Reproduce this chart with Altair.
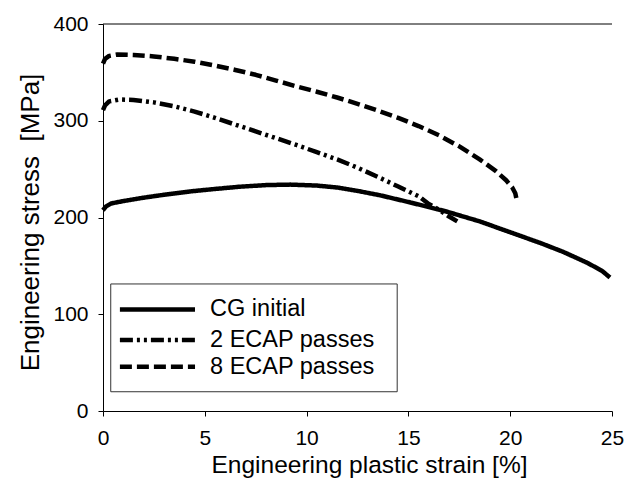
import altair as alt
import pandas as pd

series_names = ["CG initial", "2 ECAP passes", "8 ECAP passes"]
dash_patterns = [[1, 0], [13, 4, 3, 4, 3, 4], [12, 5]]

cg_strain = [0, 0.15, 0.4, 1.0, 2.0, 3.0, 4.3, 5.5, 6.7, 8.0, 9.2, 10.5, 11.5, 12.5,
             13.6, 15.2, 16.9, 18.5, 20.1, 21.5, 22.6, 23.8, 24.5, 24.9]
cg_stress = [207.5, 211.5, 214.5, 217, 220.5, 223.5, 227, 229.5, 231.8, 233.5, 234, 233,
             231, 227.5, 223, 215, 206, 196, 184, 173.5, 164.5, 153, 145, 138]

e2_strain = [0, 0.1, 0.3, 0.8, 1.5, 2.5, 3.5, 4.5, 5.5, 6.5, 7.5, 8.5, 9.5, 10.5, 11.5,
             12.5, 13.5, 14.5, 15.5, 16.0, 16.5, 17.0, 17.4]
e2_stress = [311, 316, 320, 322, 321.5, 319, 315, 309.5, 303, 296, 289, 282, 275, 267.5,
             260, 251.5, 242, 232, 222, 214, 208, 201, 196]

e8_strain = [0, 0.1, 0.3, 0.7, 1.5, 2.5, 3.5, 4.5, 5.5, 6.5, 7.5, 8.5, 9.5, 10.5, 11.5,
             12.5, 13.5, 14.5, 15.5, 16.5, 17.5, 18.5, 19.3, 19.8, 20.1, 20.25, 20.3]
e8_stress = [359, 364, 367, 368.5, 368, 366.5, 364, 361, 357, 352.5, 347.5, 341.5, 335.5,
             330, 324, 317.5, 310.5, 303, 294.5, 285, 273.5, 260, 248, 238.5, 231, 225, 220]

x_ticks = [0, 5, 10, 15, 20, 25]
y_ticks = [0, 100, 200, 300, 400]

# legend placement, in data units of the axes
legend_box = {"x": 0.38, "x2": 14.45, "y": 131.3, "y2": 19.9}
legend_sample_x = [0.83, 4.52]
legend_label_x = 5.26
legend_row_y = [105.0, 73.3, 45.8]

rows = []
for name, xs, ys in [(series_names[0], cg_strain, cg_stress),
                     (series_names[1], e2_strain, e2_stress),
                     (series_names[2], e8_strain, e8_stress)]:
    for i, (a, b) in enumerate(zip(xs, ys)):
        rows.append({"series": name, "strain": a, "stress": b, "order": i})
df = pd.DataFrame(rows)

leg_df = pd.DataFrame({
    "series": series_names,
    "x1": [legend_sample_x[0]] * 3,
    "x2": [legend_sample_x[1]] * 3,
    "xt": [legend_label_x] * 3,
    "y": legend_row_y,
})
box_df = pd.DataFrame([legend_box])

FONT = "Liberation Sans"

x_scale = alt.Scale(domain=[0, 25], nice=False)
y_scale = alt.Scale(domain=[0, 400], nice=False)
dash_scale = alt.Scale(domain=series_names, range=dash_patterns)

lines = alt.Chart(df).mark_line(color="black", strokeWidth=4.5, strokeCap="butt",
                                strokeJoin="round").encode(
    x=alt.X("strain:Q", scale=x_scale,
            axis=alt.Axis(title="Engineering plastic strain [%]", values=x_ticks,
                          grid=False, tickSize=5, labelPadding=28,
                          labelBaseline="alphabetic", labelFontSize=21,
                          titleFontSize=24.5, titleFontWeight="normal",
                          titleX=266, titleY=61, titleBaseline="alphabetic",
                          labelFlush=False)),
    y=alt.Y("stress:Q", scale=y_scale,
            axis=alt.Axis(title="Engineering stress\u00a0 [MPa]", values=y_ticks,
                          grid=False, tickSize=5, labelPadding=10, labelFontSize=21,
                          titleFontSize=26, titleFontWeight="normal",
                          titleX=-64.5, titleY=198, titleBaseline="alphabetic",
                          titleAngle=270)),
    strokeDash=alt.StrokeDash("series:N", scale=dash_scale, legend=None),
    order="order:Q",
    detail="series:N",
)

top_rule = alt.Chart(pd.DataFrame({"y": [400]})).mark_rule(
    color="black", strokeWidth=1).encode(y=alt.Y("y:Q", scale=y_scale))

box = alt.Chart(box_df).mark_rect(fill="white", stroke="#333333", strokeWidth=1).encode(
    x=alt.X("x:Q", scale=x_scale), x2="x2:Q",
    y=alt.Y("y:Q", scale=y_scale), y2="y2:Q")

samples = alt.Chart(leg_df).mark_rule(color="black", strokeWidth=4.5,
                                      strokeCap="butt").encode(
    x=alt.X("x1:Q", scale=x_scale), x2="x2:Q",
    y=alt.Y("y:Q", scale=y_scale),
    strokeDash=alt.StrokeDash("series:N", scale=dash_scale, legend=None))

labels = alt.Chart(leg_df).mark_text(align="left", baseline="middle", fontSize=23.5,
                                     font=FONT, color="black").encode(
    x=alt.X("xt:Q", scale=x_scale),
    y=alt.Y("y:Q", scale=y_scale),
    text="series:N")

chart = alt.layer(lines, top_rule, box, samples, labels).properties(
    width=509, height=387,
    autosize=alt.AutoSizeParams(type="none"),
    padding={"left": 95, "top": 16, "right": 16, "bottom": 68},
).configure_view(stroke=None).configure_axis(
    domainColor="black", tickColor="black", labelColor="black", titleColor="black",
    labelFont=FONT, titleFont=FONT, domainWidth=1, tickWidth=1,
)

chart.save("out.html", embed_options={"renderer": "svg", "actions": False})
